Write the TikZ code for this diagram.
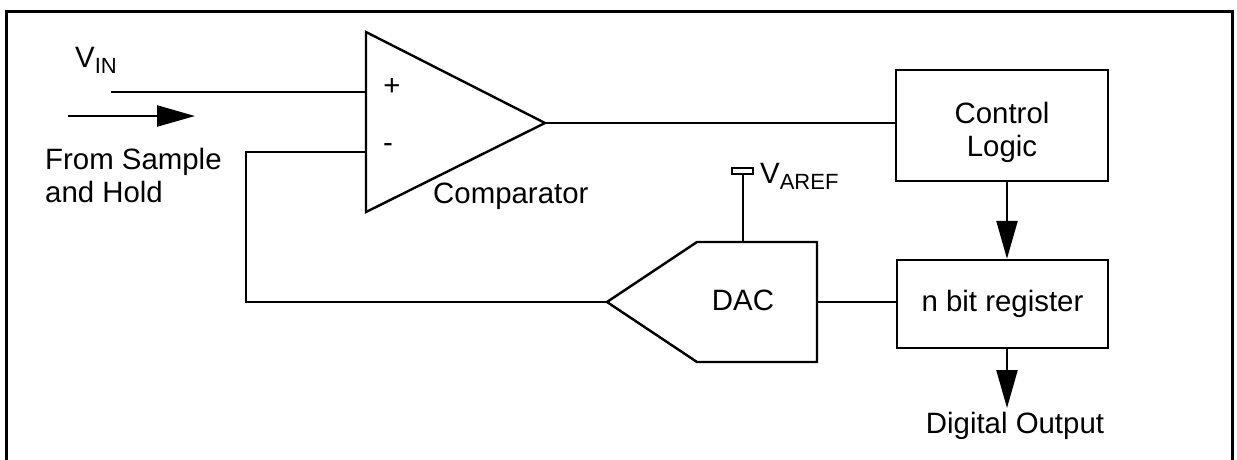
\documentclass[tikz,border=0pt]{standalone}
\usepackage{fontspec}
\setmainfont{Liberation Sans}
\usetikzlibrary{arrows.meta}
\usetikzlibrary{positioning}
\newcommand{\diagfont}{\fontsize{29.4}{33}\selectfont}
\newcommand{\vsub}[1]{\raisebox{-6pt}{\fontsize{22}{22}\selectfont #1}}
\tikzset{wire/.style = {line width = 2.4pt}}
\tikzset{block/.style = {draw, line width = 2.4pt, inner sep = 0, align = center, font = \diagfont}}
\tikzset{lbl/.style = {inner sep = 0, font = \diagfont}}
\tikzset{bigarrow/.style = {line width = 2.4pt, -{Triangle[length = 38pt, width = 21pt]}}}

\begin{document}
\begin{tikzpicture}[x = 1pt, y = -1pt]
    \clip (0, 0) rectangle (1237, 459);
    \draw [line width = 3pt] (6, 470) -- (6, 11) -- (1232, 11) -- (1232, 470);

    \coordinate (cmptop) at (366, 32);
    \coordinate (cmpbot) at (366, 212);
    \coordinate (cmpout) at (545, 123);
    \coordinate (cmpplus) at (366, 92);
    \coordinate (cmpminus) at (366, 152);
    \draw [wire] (cmptop) -- (cmpout) -- (cmpbot) -- cycle;
    \node [lbl] (plus) at (392, 87) {+};
    \node [lbl] (minus) at (388, 148) {-};
    \node [lbl, anchor = base west] (cmplbl) at (433, 203) {Comparator};

    \node [lbl, anchor = base west] (vinlbl) at (75, 67) {V\vsub{IN}};
    \coordinate (vin) at (111, 92);
    \draw [wire] (vin) -- (cmpplus);
    \coordinate (shstart) at (68, 116);
    \coordinate (shend) at (195, 116);
    \draw [bigarrow] (shstart) -- (shend);
    \node [lbl, anchor = base west, align = left] (shlbl) at (45, 202) {From Sample\\and Hold};

    \node [block, minimum width = 212pt, minimum height = 111pt] (ctrl) at (1002, 125.5) {\rule{0pt}{35pt}Control\\Logic};
    \node [block, minimum width = 211pt, minimum height = 88pt] (reg) at (1002.5, 304) {n bit register};
    \coordinate (dout) at (1007, 408);
    \node [lbl, anchor = base] (doutlbl) at (1015, 433) {Digital Output};

    \coordinate (dactip) at (607, 302);
    \coordinate (dacnw) at (697, 242);
    \coordinate (dacne) at (817, 242);
    \coordinate (dacse) at (817, 362);
    \coordinate (dacsw) at (697, 362);
    \coordinate (dacref) at (743, 242);
    \coordinate (dacout) at (817, 302);
    \draw [wire] (dactip) -- (dacnw) -- (dacne) -- (dacse) -- (dacsw) -- cycle;
    \node [lbl] (daclbl) at (743, 300) {DAC};

    \coordinate (pin) at (743, 174);
    \draw [wire] (dacref) -- (pin);
    \draw [line width = 1.8pt] (732, 168) rectangle (753, 174);
    \node [lbl, anchor = base west] (areflbl) at (760, 183) {V\vsub{AREF}};

    \draw [wire] (cmpout) -- (cmpout -| ctrl.west);
    \draw [bigarrow] (ctrl.south -| dout) -- (reg.north -| dout);
    \draw [wire] (dacout) -- (dacout -| reg.west);
    \draw [bigarrow] (reg.south -| dout) -- (dout);

    \coordinate (fbk) at (246, 152);
    \draw [wire] (cmpminus) -- (fbk) |- (dactip);
\end{tikzpicture}
\end{document}
